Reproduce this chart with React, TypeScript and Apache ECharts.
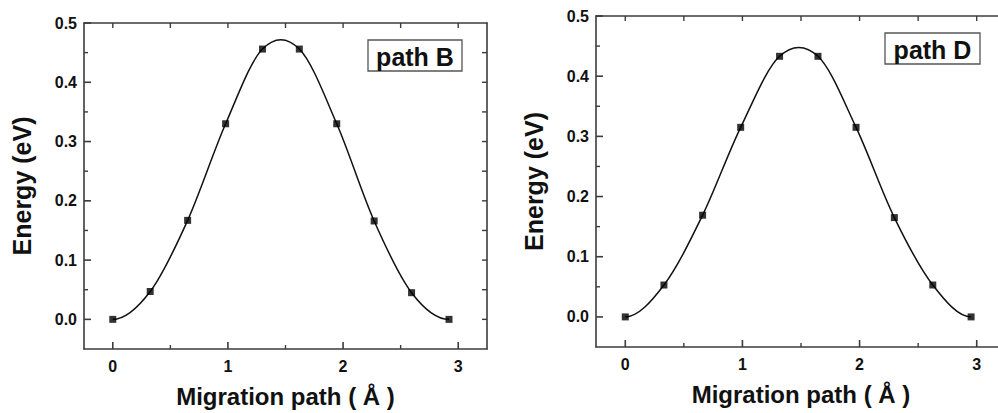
import React, { useEffect, useRef } from "react";
import * as echarts from "echarts";

// ---- axis ticks / labels ----
const xTickValues = [0, 1, 2, 3];
const xMinorValues = [0.5, 1.5, 2.5];
const xFrameTicks = [0, 0.5, 1, 1.5, 2, 2.5, 3];
const yTickValues = [0, 0.1, 0.2, 0.3, 0.4, 0.5];
const yMinorValues = [0.05, 0.15, 0.25, 0.35, 0.45];
const yFrameTicks = [0, 0.05, 0.1, 0.15, 0.2, 0.25, 0.3, 0.35, 0.4, 0.45];

// ---- data: path B ----
const pathBX = [0, 0.325, 0.65, 0.98, 1.3, 1.62, 1.945, 2.27, 2.595, 2.92];
const pathBEnergy = [0, 0.047, 0.167, 0.33, 0.456, 0.456, 0.33, 0.166, 0.045, 0];

// ---- data: path D ----
const pathDX = [0, 0.33, 0.66, 0.985, 1.317, 1.645, 1.97, 2.297, 2.625, 2.952];
const pathDEnergy = [0, 0.053, 0.169, 0.315, 0.433, 0.433, 0.315, 0.165, 0.053, 0];

const panelLabels = ["path B", "path D"];
const xTitle = "Migration path ( Å )";
const yTitle = "Energy (eV)";

const X_MIN = -0.25;
const X_MAX = 3.25;
const Y_MIN = -0.05;
const Y_MAX = 0.5;

const FONT = "'Liberation Sans', Arial, Helvetica, sans-serif";
const FRAME = "#3c3c3c";

const panels = [
  {
    grid: { left: 84, top: 23, width: 403, height: 326 },
    x: pathBX,
    e: pathBEnergy,
    label: panelLabels[0],
    box: { x: 368, y: 40, w: 94, h: 31 },
  },
  {
    grid: { left: 596, top: 16, width: 410, height: 331 },
    x: pathDX,
    e: pathDEnergy,
    label: panelLabels[1],
    box: { x: 885, y: 33, w: 95, h: 31 },
  },
];

// tick mark sets drawn on the frame (inward)
const tickSpecs = [
  { values: xTickValues, side: "bottom", len: 7, width: 1.6 },
  { values: xMinorValues, side: "bottom", len: 4, width: 1.4 },
  { values: xFrameTicks, side: "top", len: 5, width: 1.4 },
  { values: yTickValues, side: "left", len: 7, width: 1.6 },
  { values: yMinorValues, side: "left", len: 4, width: 1.4 },
  { values: yFrameTicks, side: "right", len: 5, width: 1.4 },
];

function buildOption() {
  const grid: any[] = [];
  const xAxis: any[] = [];
  const yAxis: any[] = [];
  const series: any[] = [];
  const graphic: any[] = [];

  panels.forEach((p, i) => {
    grid.push({ ...p.grid, containLabel: false, outerBoundsMode: "none" });

    const base = { type: "value", min: X_MIN, max: X_MAX, splitLine: { show: false }, axisTick: { show: false } };
    const baseY = { type: "value", min: Y_MIN, max: Y_MAX, splitLine: { show: false }, axisTick: { show: false } };

    xAxis.push({
      ...base,
      gridIndex: i,
      position: "bottom",
      name: xTitle,
      nameLocation: "middle",
      nameGap: 35,
      nameTextStyle: { fontFamily: FONT, fontWeight: "bold", fontSize: 24, color: "#111" },
      axisLine: { show: true, onZero: false, lineStyle: { color: FRAME, width: 1.6 } },
      axisLabel: {
        show: true,
        customValues: xTickValues,
        margin: 9,
        fontFamily: FONT,
        fontWeight: "bold",
        fontSize: 16,
        color: "#111",
        formatter: (v: number) => String(Math.round(v)),
      },
    });
    xAxis.push({
      ...base,
      gridIndex: i,
      position: "top",
      axisLine: { show: true, onZero: false, lineStyle: { color: FRAME, width: 1.6 } },
      axisLabel: { show: false },
    });
    yAxis.push({
      ...baseY,
      gridIndex: i,
      position: "left",
      name: yTitle,
      nameLocation: "middle",
      nameGap: 50,
      nameRotate: 90,
      nameTextStyle: { fontFamily: FONT, fontWeight: "bold", fontSize: 25, color: "#111" },
      axisLine: { show: true, onZero: false, lineStyle: { color: FRAME, width: 1.6 } },
      axisLabel: {
        show: true,
        customValues: yTickValues,
        margin: 7,
        fontFamily: FONT,
        fontWeight: "bold",
        fontSize: 16,
        color: "#111",
        formatter: (v: number) => v.toFixed(1),
      },
    });
    yAxis.push({
      ...baseY,
      gridIndex: i,
      position: "right",
      axisLine: { show: true, onZero: false, lineStyle: { color: FRAME, width: 1.6 } },
      axisLabel: { show: false },
    });

    const xIdx = 2 * i;
    const yIdx = 2 * i;

    // tick marks: position along the axis from the axis scale, edge from the grid rect
    tickSpecs.forEach((t) => {
      const isX = t.side === "bottom" || t.side === "top";
      series.push({
        type: "custom",
        name: "ticks-" + t.side,
        xAxisIndex: xIdx,
        yAxisIndex: yIdx,
        data: t.values.map((v) => (isX ? [v, 0] : [0, v])),
        encode: { x: 0, y: 1 },
        silent: true,
        clip: false,
        z: 4,
        renderItem: (params: any, api: any) => {
          const cs = params.coordSys;
          let x1: number, y1: number, x2: number, y2: number;
          if (isX) {
            const px = api.coord([api.value(0), 0])[0];
            const edge = t.side === "bottom" ? cs.y + cs.height : cs.y;
            const d = t.side === "bottom" ? -t.len : t.len;
            x1 = px; x2 = px; y1 = edge; y2 = edge + d;
          } else {
            const py = api.coord([0, api.value(1)])[1];
            const edge = t.side === "left" ? cs.x : cs.x + cs.width;
            const d = t.side === "left" ? t.len : -t.len;
            y1 = py; y2 = py; x1 = edge; x2 = edge + d;
          }
          return {
            type: "line",
            shape: { x1, y1, x2, y2 },
            style: { stroke: FRAME, lineWidth: t.width },
          };
        },
      });
    });

    const xs = p.x;
    const es = p.e;
    const pts = xs.map((v, k) => [v, es[k]]);
    const n = xs.length;

    // smooth spline curve through the points (drawn segment by segment)
    series.push({
      type: "custom",
      name: p.label + " curve",
      xAxisIndex: xIdx,
      yAxisIndex: yIdx,
      data: pts,
      encode: { x: 0, y: 1 },
      z: 2,
      silent: true,
      renderItem: (params: any, api: any) => {
        const k = params.dataIndex;
        if (k >= n - 1) return null;
        const P = (j: number) => api.coord([xs[j], es[j]]);
        const a = P(k);
        const b = P(k + 1);
        let t0 = [b[0] - a[0], 0];
        let t1 = [b[0] - a[0], 0];
        if (k > 0) {
          const m = P(k - 1);
          t0 = [(b[0] - m[0]) / 2, (b[1] - m[1]) / 2];
        }
        if (k + 2 < n) {
          const q = P(k + 2);
          t1 = [(q[0] - a[0]) / 2, (q[1] - a[1]) / 2];
        }
        return {
          type: "bezierCurve",
          shape: {
            x1: a[0], y1: a[1],
            cpx1: a[0] + t0[0] / 3, cpy1: a[1] + t0[1] / 3,
            cpx2: b[0] - t1[0] / 3, cpy2: b[1] - t1[1] / 3,
            x2: b[0], y2: b[1],
          },
          style: { stroke: "#111", lineWidth: 1.5, fill: null },
        };
      },
    });
    series.push({
      type: "scatter",
      name: p.label,
      xAxisIndex: xIdx,
      yAxisIndex: yIdx,
      data: pts,
      symbol: "rect",
      symbolSize: 7,
      itemStyle: { color: "#000" },
      z: 3,
    });

    graphic.push({
      type: "group",
      children: [
        {
          type: "rect",
          shape: { x: p.box.x, y: p.box.y, width: p.box.w, height: p.box.h },
          style: { fill: "#fff", stroke: "#555", lineWidth: 1.3 },
        },
        {
          type: "text",
          x: p.box.x + p.box.w / 2,
          y: p.box.y + p.box.h / 2 + 1,
          style: {
            text: p.label,
            fontFamily: FONT,
            fontWeight: "bold",
            fontSize: 25,
            fill: "#111",
            textAlign: "center",
            textVerticalAlign: "middle",
          },
        },
      ],
    });
  });

  return {
    animation: false,
    backgroundColor: "#ffffff",
    textStyle: { fontFamily: FONT },
    grid,
    xAxis,
    yAxis,
    series,
    graphic,
  };
}

export default function App() {
  const ref = useRef<HTMLDivElement>(null);
  useEffect(() => {
    if (!ref.current) return;
    const chart = echarts.init(ref.current, undefined, { renderer: "svg" });
    chart.setOption(buildOption() as any);
    return () => chart.dispose();
  }, []);
  return (
    <div
      ref={ref}
      style={{ position: "fixed", left: 0, top: 0, width: 998, height: 413, background: "#fff" }}
    />
  );
}
